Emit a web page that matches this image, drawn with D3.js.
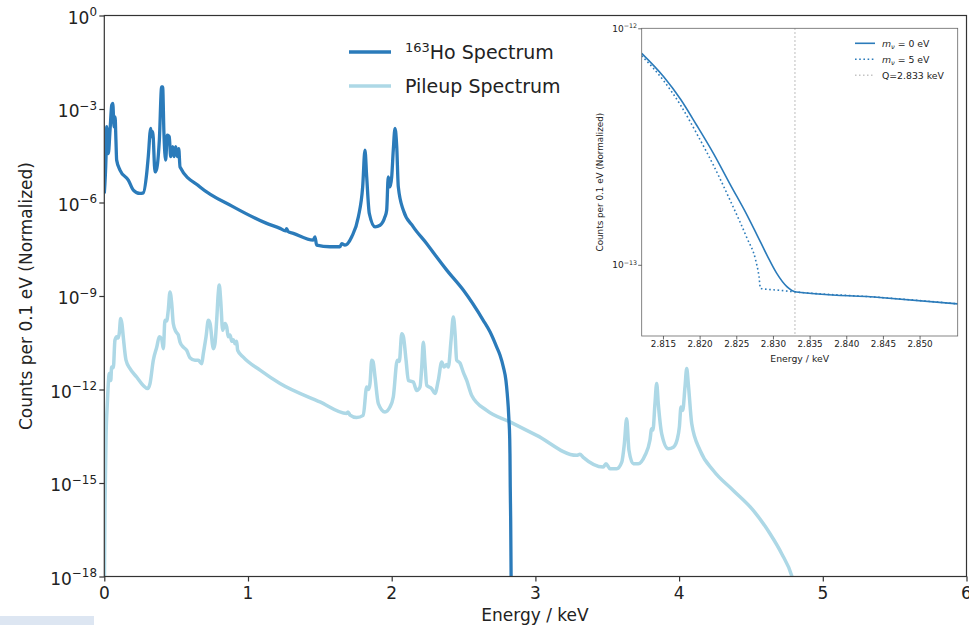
<!DOCTYPE html>
<html>
<head>
<meta charset="utf-8">
<script src="https://cdn.jsdelivr.net/npm/d3@7"></script>
<style>
  body { margin: 0; background: #fff; }
  svg { font-family: "DejaVu Sans", sans-serif; }
</style>
</head>
<body>
<svg id="chart" width="969" height="625"></svg>
<script>
// main spectrum, energy in keV, counts given as log10 values
var hoE = [0.0,0.012,0.017,0.028,0.040,0.052,0.059,0.068,0.075,0.081,0.086,0.109,0.167,0.202,0.248,0.271,0.295,0.306,0.323,0.330,0.337,0.353,0.365,0.383,0.399,0.406,0.415,0.427,0.438,0.452,0.462,0.476,0.485,0.497,0.508,0.518,0.527,0.666,0.898,1.130,1.223,1.261,1.269,1.278,1.315,1.454,1.466,1.478,1.571,1.640,1.652,1.675,1.722,1.768,1.798,1.814,1.826,1.844,1.884,1.919,1.953,1.965,1.976,1.988,2.000,2.011,2.023,2.035,2.046,2.081,2.150,2.244,2.313,2.383,2.498,2.637,2.684,2.731,2.754,2.777,2.795,2.804,2.811,2.816,2.821,2.823,2.825,2.828,2.832];
var hoLog = [-5.71,-4.53,-3.57,-4.43,-3.68,-2.87,-2.82,-3.57,-3.25,-4.0,-4.64,-4.96,-5.28,-5.60,-5.71,-5.69,-5.07,-4.53,-3.62,-3.89,-3.73,-5.02,-4.91,-4.0,-2.29,-2.29,-3.78,-4.64,-3.84,-3.89,-4.53,-4.21,-4.53,-4.21,-4.53,-4.27,-4.86,-5.50,-6.14,-6.67,-6.83,-6.91,-6.84,-6.93,-6.99,-7.21,-7.10,-7.37,-7.42,-7.42,-7.32,-7.37,-7.10,-6.46,-5.50,-4.32,-5.18,-6.35,-6.78,-6.73,-6.46,-6.25,-5.18,-5.50,-5.18,-4.32,-3.62,-4.21,-5.50,-6.25,-6.78,-7.32,-7.75,-8.17,-8.81,-9.78,-10.15,-10.64,-10.90,-11.28,-11.71,-12.13,-12.56,-12.99,-13.53,-14.06,-15.13,-16.2,-18.6];

var pileE = [0.0,0.005,0.012,0.021,0.035,0.045,0.051,0.063,0.074,0.086,0.095,0.104,0.114,0.123,0.132,0.151,0.179,0.225,0.271,0.302,0.318,0.341,0.365,0.383,0.399,0.411,0.422,0.434,0.445,0.457,0.469,0.480,0.499,0.515,0.527,0.550,0.573,0.596,0.631,0.654,0.678,0.689,0.708,0.724,0.736,0.759,0.770,0.782,0.793,0.800,0.810,0.824,0.840,0.852,0.863,0.875,0.887,0.898,0.910,0.921,0.928,0.967,1.084,1.223,1.501,1.687,1.696,1.710,1.756,1.802,1.826,1.839,1.849,1.861,1.870,1.884,1.907,1.953,1.988,2.011,2.039,2.053,2.070,2.081,2.100,2.116,2.150,2.174,2.197,2.209,2.220,2.232,2.244,2.278,2.301,2.324,2.348,2.364,2.383,2.394,2.413,2.429,2.441,2.452,2.475,2.498,2.522,2.557,2.661,2.823,3.009,3.287,3.310,3.331,3.472,3.491,3.519,3.566,3.601,3.619,3.635,3.651,3.681,3.716,3.763,3.797,3.809,3.818,3.832,3.844,3.855,3.879,3.925,3.960,3.988,4.002,4.013,4.025,4.041,4.053,4.064,4.088,4.146,4.238,4.377,4.516,4.633,4.714,4.783,4.807];
var pileLog = [-18.5,-15.66,-13.53,-12.45,-11.49,-11.71,-11.28,-11.30,-10.42,-10.31,-10.35,-10.20,-9.72,-9.90,-10.31,-11.06,-11.33,-11.60,-11.87,-11.97,-11.81,-11.06,-10.64,-10.31,-10.38,-10.69,-9.78,-9.80,-9.46,-8.87,-9.24,-9.88,-10.15,-10.25,-10.48,-10.64,-10.74,-10.98,-11.06,-11.06,-11.17,-10.85,-10.31,-9.78,-9.88,-10.69,-10.53,-9.78,-8.92,-8.65,-9.14,-10.10,-9.88,-10.0,-10.31,-10.25,-10.45,-10.40,-10.53,-10.45,-10.74,-10.96,-11.38,-11.81,-12.40,-12.77,-12.72,-12.82,-12.90,-12.83,-11.92,-12.0,-11.81,-11.06,-11.10,-11.60,-12.45,-12.72,-12.56,-12.24,-11.06,-11.10,-10.21,-10.30,-11.06,-11.71,-11.76,-12.03,-11.92,-11.28,-10.48,-11.20,-11.87,-11.97,-12.13,-11.71,-11.12,-11.28,-11.20,-11.28,-10.42,-9.67,-10.21,-11.06,-11.15,-11.44,-11.71,-12.19,-12.67,-13.04,-13.47,-14.11,-14.08,-14.17,-14.49,-14.38,-14.54,-14.54,-14.33,-13.74,-12.94,-13.95,-14.38,-14.38,-14.11,-13.63,-13.26,-13.30,-12.45,-11.81,-12.45,-13.42,-13.90,-13.85,-13.58,-13.20,-12.56,-12.67,-11.92,-11.33,-11.81,-13.10,-13.95,-14.60,-15.24,-15.88,-16.63,-17.27,-17.97,-18.4];

// inset, endpoint region
var insetE0 = [2.8121,2.8151,2.8174,2.8196,2.8219,2.8242,2.8265,2.8278,2.8292,2.8305,2.8319,2.8332,2.8446,2.8552];
var insetLog0 = [-12.106,-12.205,-12.300,-12.410,-12.530,-12.662,-12.792,-12.872,-12.960,-13.035,-13.092,-13.115,-13.138,-13.165];
var insetE5 = [2.8121,2.8151,2.8174,2.8196,2.8219,2.8242,2.8265,2.8276,2.8281,2.8283,2.8310,2.8332,2.8446,2.8552];
var insetLog5 = [-12.116,-12.222,-12.325,-12.445,-12.580,-12.730,-12.890,-12.975,-13.050,-13.100,-13.108,-13.115,-13.138,-13.165];
var qValue = 2.833;

var xTicks = [0,1,2,3,4,5,6];
var yTickExp = [0,-3,-6,-9,-12,-15,-18];
var insetXTicks = [2.815,2.820,2.825,2.830,2.835,2.840,2.845,2.850];
var insetYTickExp = [-12,-13];
var legendLabels = ["Spectrum","Pileup Spectrum"];
var insetLegend = ["= 0 eV","= 5 eV","Q=2.833 keV"];

var darkBlue = "#2b7bba";
var lightBlue = "#add8e6";

var svg = d3.select("#chart");
svg.append("rect").attr("x",0).attr("y",616).attr("width",94).attr("height",9).attr("fill","#dde6f2");

function pow10(v) { return Math.pow(10, v); }

function sciLabel(t, exp, size) {
  t.append("tspan").text("10");
  t.append("tspan").attr("dy", -size*0.42).attr("font-size", size*0.7)
    .text(exp === 0 ? "0" : "\u2212" + Math.abs(exp));
}

// ---------- main axes ----------
var L = 104.3, R = 966.5, T = 15.5, B = 576.5;
var x = d3.scaleLinear().domain([0,6]).range([L,R]);
var y = d3.scaleLog().domain([1e-18,1]).range([B,T]);

svg.append("defs").append("clipPath").attr("id","mainclip")
  .append("rect").attr("x",L).attr("y",T).attr("width",R-L).attr("height",B-T);

var line = d3.line().curve(d3.curveMonotoneX)
  .x(function(d){return x(d[0]);}).y(function(d){return y(pow10(d[1]));});

var plot = svg.append("g").attr("clip-path","url(#mainclip)");
plot.append("path").datum(d3.zip(pileE,pileLog)).attr("d",line)
  .attr("fill","none").attr("stroke",lightBlue).attr("stroke-width",3.5).attr("stroke-linejoin","round");
plot.append("path").datum(d3.zip(hoE,hoLog)).attr("d",line)
  .attr("fill","none").attr("stroke",darkBlue).attr("stroke-width",3.3).attr("stroke-linejoin","round");

// spines
svg.append("rect").attr("x",L).attr("y",T).attr("width",R-L).attr("height",B-T)
  .attr("fill","none").attr("stroke","#333").attr("stroke-width",1.2);

var xAxis = svg.append("g").attr("transform","translate(0,"+B+")")
  .call(d3.axisBottom(x).tickValues(xTicks).tickSize(5).tickFormat(""));
xAxis.select(".domain").remove();
xAxis.selectAll("line").attr("stroke","#333").attr("stroke-width",1.2);
svg.selectAll(".xlab").data(xTicks).enter().append("text")
  .attr("x", function(d){return x(d);}).attr("y",599)
  .attr("text-anchor","middle").attr("font-size",17).attr("fill","#222")
  .text(function(d){return d;});

var yAxis = svg.append("g").attr("transform","translate("+L+",0)")
  .call(d3.axisLeft(y).tickValues(yTickExp.map(pow10)).tickSize(5).tickFormat(""));
yAxis.select(".domain").remove();
yAxis.selectAll("line").attr("stroke","#333").attr("stroke-width",1.2);
yTickExp.forEach(function(e){
  var t = svg.append("text").attr("x",97).attr("y",y(pow10(e))+8)
    .attr("text-anchor","end").attr("font-size",17).attr("fill","#222");
  sciLabel(t, e, 17);
});

svg.append("text").attr("x",535).attr("y",621).attr("text-anchor","middle")
  .attr("font-size",17).attr("fill","#222").text("Energy / keV");
svg.append("text").attr("transform","translate(32,"+((T+B)/2)+") rotate(-90)")
  .attr("text-anchor","middle").attr("font-size",17).attr("fill","#222")
  .text("Counts per 0.1 eV (Normalized)");

// legend
var leg = svg.append("g");
[darkBlue, lightBlue].forEach(function(c,i){
  var ly = 52 + i*34;
  leg.append("line").attr("x1",349).attr("x2",391).attr("y1",ly).attr("y2",ly)
    .attr("stroke",c).attr("stroke-width",3.5);
  var t = leg.append("text").attr("x",405).attr("y",ly+7).attr("font-size",19).attr("fill","#222");
  if (i === 0) {
    t.append("tspan").attr("font-size",13).attr("dy",-7).text("163");
    t.append("tspan").attr("dy",7).text("Ho " + legendLabels[0]);
  } else {
    t.text(legendLabels[1]);
  }
});

// ---------- inset ----------
var iL = 641.7, iR = 957.7, iT = 28.3, iB = 336;
var ix = d3.scaleLinear().domain([2.8121,2.8552]).range([iL,iR]);
var iy = d3.scaleLog().domain([5e-14,1e-12]).range([iB,iT]);

svg.append("rect").attr("x",iL).attr("y",iT).attr("width",iR-iL).attr("height",iB-iT).attr("fill","#fff");
svg.select("defs").append("clipPath").attr("id","insetclip")
  .append("rect").attr("x",iL).attr("y",iT).attr("width",iR-iL).attr("height",iB-iT);

var iline = d3.line().curve(d3.curveMonotoneX)
  .x(function(d){return ix(d[0]);}).y(function(d){return iy(pow10(d[1]));});
var ig = svg.append("g").attr("clip-path","url(#insetclip)");
ig.append("line").attr("x1",ix(qValue)).attr("x2",ix(qValue)).attr("y1",iT).attr("y2",iB)
  .attr("stroke","#c4c4c4").attr("stroke-width",1.5).attr("stroke-dasharray","1.5,2.5");
ig.append("path").datum(d3.zip(insetE5,insetLog5)).attr("d",iline)
  .attr("fill","none").attr("stroke",darkBlue).attr("stroke-width",1.6).attr("stroke-dasharray","1.6,2.6");
ig.append("path").datum(d3.zip(insetE0,insetLog0)).attr("d",iline)
  .attr("fill","none").attr("stroke",darkBlue).attr("stroke-width",1.6);

svg.append("rect").attr("x",iL).attr("y",iT).attr("width",iR-iL).attr("height",iB-iT)
  .attr("fill","none").attr("stroke","#666").attr("stroke-width",0.8);

var ixAxis = svg.append("g").attr("transform","translate(0,"+iB+")")
  .call(d3.axisBottom(ix).tickValues(insetXTicks).tickSize(3.5).tickFormat(d3.format(".3f")));
ixAxis.select(".domain").remove();
ixAxis.selectAll("line").attr("stroke","#444").attr("stroke-width",0.8);
ixAxis.selectAll("text").attr("font-size",8.8).attr("fill","#222").attr("font-family","DejaVu Sans")
  .attr("y",5).attr("dy","0.71em");

var minor = iy.ticks().filter(function(v){ return insetYTickExp.map(pow10).indexOf(v) < 0; });
var iyAxis = svg.append("g").attr("transform","translate("+iL+",0)");
iyAxis.call(d3.axisLeft(iy).tickValues(minor).tickSize(2).tickFormat(""));
iyAxis.call(d3.axisLeft(iy).tickValues(insetYTickExp.map(pow10)).tickSize(3.5).tickFormat(""));
iyAxis.selectAll(".domain").remove();
iyAxis.selectAll("line").attr("stroke","#444").attr("stroke-width",0.8);
insetYTickExp.forEach(function(e){
  var t = svg.append("text").attr("x",637).attr("y",iy(pow10(e))+3.5)
    .attr("text-anchor","end").attr("font-size",9).attr("fill","#222");
  sciLabel(t, e, 9);
});

svg.append("text").attr("x",(iL+iR)/2).attr("y",362).attr("text-anchor","middle")
  .attr("font-size",9.3).attr("fill","#222").text("Energy / keV");
svg.append("text").attr("transform","translate(603,"+((iT+iB)/2)+") rotate(-90)")
  .attr("text-anchor","middle").attr("font-size",8.8).attr("fill","#222")
  .text("Counts per 0.1 eV (Normalized)");

// inset legend
var ileg = svg.append("g");
var legStyles = [
  {c: darkBlue, dash: null},
  {c: darkBlue, dash: "1.6,2.6"},
  {c: "#c4c4c4", dash: "1.5,2.5"}
];
legStyles.forEach(function(s,i){
  var ly = 43.3 + i*16;
  var l = ileg.append("line").attr("x1",855).attr("x2",875).attr("y1",ly).attr("y2",ly)
    .attr("stroke",s.c).attr("stroke-width",1.6);
  if (s.dash) l.attr("stroke-dasharray",s.dash);
  var t = ileg.append("text").attr("x",882).attr("y",ly+3.3).attr("font-size",9.3).attr("fill","#222");
  if (i < 2) {
    t.append("tspan").attr("font-style","italic").text("m");
    t.append("tspan").attr("font-style","italic").attr("font-size",6.6).attr("dy",2).text("\u03bd");
    t.append("tspan").attr("dy",-2).text(" " + insetLegend[i]);
  } else {
    t.text(insetLegend[i]);
  }
});
</script>
</body>
</html>
